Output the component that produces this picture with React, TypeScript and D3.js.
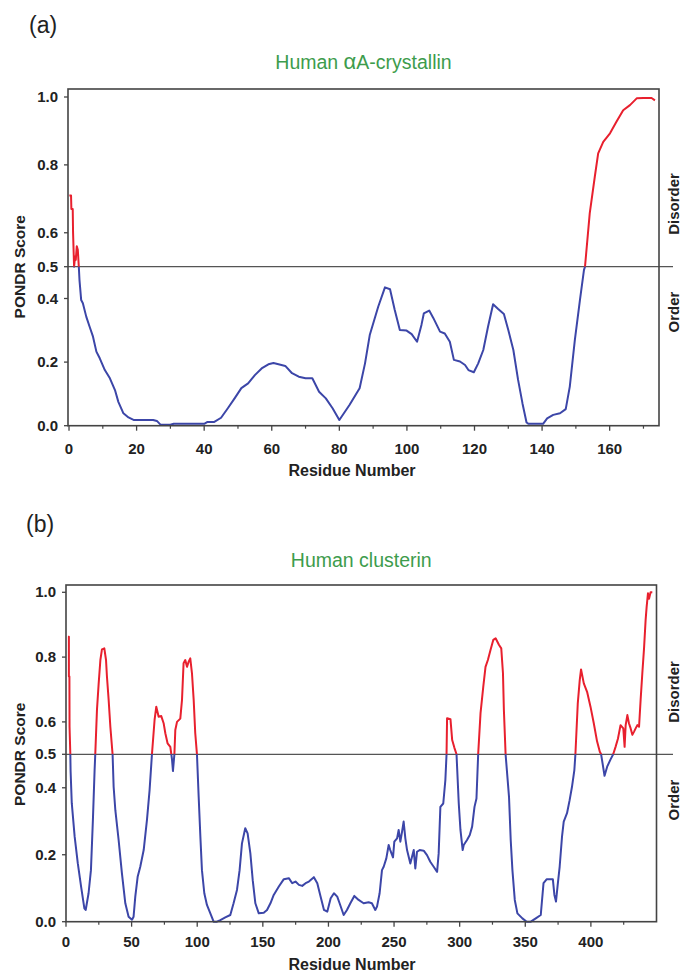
import React from "react";
import { scaleLinear, line } from "d3";

// PONDR scores: [residue, score]
const alphaCrystallin: [number, number][] = [
  [0.1, 0.71], [0.6, 0.71], [0.7, 0.67], [1.1, 0.67], [1.2, 0.6], [1.5, 0.5], [1.8, 0.53], [2.0, 0.52],
  [2.3, 0.56], [2.6, 0.55], [2.9, 0.5], [3.1, 0.458], [3.6, 0.395], [4.1, 0.385], [5.1, 0.343], [6.1, 0.311],
  [7.1, 0.28], [8.1, 0.233], [9.1, 0.212], [10.6, 0.175], [12.1, 0.149], [13.6, 0.112], [14.6, 0.075],
  [16.1, 0.039], [17.6, 0.026], [19.1, 0.018], [24.9, 0.018], [26, 0.015], [27, 0.004], [30, 0.003],
  [31, 0.006], [40, 0.006], [41, 0.012], [43, 0.012], [45, 0.025], [47, 0.055], [49, 0.086], [51, 0.118],
  [53, 0.133], [55, 0.159], [57, 0.18], [59, 0.193], [60.5, 0.197], [62, 0.193], [64, 0.188], [66, 0.165],
  [68, 0.154], [70, 0.149], [72, 0.149], [74, 0.107], [76, 0.086], [78, 0.055], [80, 0.018], [83, 0.065],
  [86, 0.118], [87.6, 0.196], [89, 0.285], [91.5, 0.374], [93.5, 0.435], [95, 0.429], [96.4, 0.364],
  [97.9, 0.301], [99.9, 0.299], [101.4, 0.288], [103, 0.264], [104.3, 0.317], [105, 0.353], [106.6, 0.362],
  [107.8, 0.339], [109.8, 0.296], [111.2, 0.29], [112.7, 0.264], [113.9, 0.207], [115.7, 0.202],
  [117.2, 0.191], [118.2, 0.175], [119.8, 0.168], [121.1, 0.196], [122.6, 0.238], [124, 0.311],
  [125.5, 0.382], [127, 0.367], [128.7, 0.351], [130, 0.301], [131.5, 0.238], [132.9, 0.144], [134.2, 0.07],
  [135.4, 0.01], [136, 0.006], [140.3, 0.006], [141.5, 0.023], [143.3, 0.034], [145.3, 0.039], [147, 0.052],
  [148.2, 0.123], [149.7, 0.27], [151.2, 0.395], [152.4, 0.49], [152.7, 0.5], [154.1, 0.657], [155.6, 0.765],
  [156.6, 0.834], [158.1, 0.868], [160.1, 0.893], [162, 0.927], [164, 0.961], [166, 0.976], [168, 0.996],
  [170, 0.997], [172.4, 0.997], [173.4, 0.99],
];

const clusterin: [number, number][] = [
  [1.5, 0.863], [2.2, 0.863], [2.2, 0.74], [2.6, 0.74], [2.7, 0.585], [3.3, 0.5], [3.5, 0.45], [4.4, 0.354],
  [6.6, 0.254], [9, 0.174], [11.5, 0.105], [14, 0.04], [15, 0.035], [17.2, 0.085], [19, 0.154], [20.5, 0.304],
  [21.8, 0.453], [22.3, 0.5], [23.6, 0.637], [24.9, 0.719], [26.2, 0.791], [27.4, 0.824], [29.2, 0.827],
  [30.5, 0.791], [31.2, 0.74], [32.5, 0.668], [33.8, 0.585], [35.5, 0.5], [36.3, 0.403], [37.6, 0.333],
  [40.1, 0.244], [42.6, 0.145], [45.2, 0.055], [47.7, 0.015], [50.3, 0.006], [51.5, 0.015], [52.8, 0.075],
  [54.6, 0.134], [56.6, 0.164], [59.2, 0.214], [61.7, 0.304], [63.7, 0.393], [65.5, 0.5], [67.5, 0.606],
  [68.8, 0.647], [70.6, 0.616], [72.6, 0.618], [74.4, 0.596], [75.7, 0.565], [77.4, 0.534], [79.5, 0.523],
  [80.8, 0.484], [81.5, 0.45], [82.6, 0.5], [83.3, 0.575], [84.6, 0.6], [87.1, 0.61], [88.4, 0.668],
  [89.6, 0.781], [90.9, 0.791], [92.2, 0.77], [93.5, 0.786], [94.7, 0.796], [96, 0.75], [97.3, 0.668],
  [98.5, 0.565], [99.8, 0.5], [101.1, 0.373], [102.4, 0.254], [103.6, 0.154], [105.4, 0.085], [107.4, 0.05],
  [110, 0.025], [112.5, 0.0], [115, 0.0], [117.6, 0.005], [121.4, 0.013], [125.2, 0.02], [127.7, 0.055],
  [130.3, 0.095], [132.3, 0.154], [134.1, 0.234], [136.6, 0.279], [138.4, 0.264], [140.5, 0.204],
  [142.3, 0.124], [144.3, 0.055], [146.9, 0.025], [150.7, 0.027], [153.2, 0.035], [155.8, 0.055],
  [158.3, 0.08], [162.2, 0.105], [166, 0.127], [169.8, 0.13], [172.4, 0.115], [174.9, 0.12], [177.5, 0.11],
  [180, 0.107], [182.6, 0.115], [185.1, 0.12], [188.9, 0.133], [191.5, 0.115], [194, 0.075], [196.6, 0.035],
  [199.1, 0.03], [201.7, 0.07], [204.2, 0.085], [206.7, 0.075], [208.5, 0.055], [211.6, 0.02], [214.1, 0.035],
  [216.7, 0.055], [219.7, 0.077], [223, 0.065], [226.8, 0.055], [230.6, 0.058], [233.1, 0.055], [235.7, 0.035],
  [237, 0.045], [239, 0.085], [240.8, 0.154], [242.1, 0.164], [244.1, 0.189], [245.9, 0.229], [247.1, 0.214],
  [249.2, 0.192], [250.2, 0.239], [252.3, 0.249], [253.5, 0.274], [254.8, 0.239], [256.1, 0.269],
  [257.3, 0.299], [258.6, 0.249], [259.9, 0.214], [262.4, 0.174], [263.7, 0.194], [265, 0.214], [266.2, 0.159],
  [267.5, 0.209], [269.5, 0.214], [272.6, 0.212], [275.1, 0.199], [277.6, 0.179], [280.2, 0.164],
  [282.8, 0.149], [284, 0.204], [285.3, 0.343], [287.5, 0.353], [289.1, 0.423], [290, 0.5], [290.4, 0.611],
  [293, 0.608], [294.3, 0.544], [296, 0.52], [297.6, 0.5], [299.3, 0.354], [300.6, 0.274], [302.3, 0.214],
  [303.1, 0.229], [305.6, 0.244], [307.7, 0.259], [309.5, 0.284], [311.3, 0.343], [312.8, 0.368], [314.1, 0.5],
  [315.9, 0.627], [318, 0.709], [319.7, 0.77], [321.5, 0.791], [323.5, 0.822], [325.6, 0.853], [327.4, 0.858],
  [329.9, 0.838], [331.7, 0.827], [333, 0.75], [333.7, 0.637], [335, 0.5], [337.6, 0.373], [338.9, 0.244],
  [340.2, 0.154], [342, 0.065], [344, 0.025], [347.8, 0.01], [351.1, 0.0], [354.2, 0.0], [358, 0.01],
  [361.8, 0.02], [363.9, 0.115], [366.4, 0.127], [369.5, 0.127], [371, 0.127], [372.2, 0.08], [373.4, 0.06],
  [374.7, 0.11], [376.2, 0.164], [378, 0.254], [379.3, 0.299], [381.8, 0.324], [383.8, 0.363], [385.6, 0.403],
  [387.4, 0.453], [388.2, 0.5], [390, 0.657], [391.5, 0.729], [392.5, 0.762], [394.6, 0.719], [397.1, 0.693],
  [399.7, 0.647], [402.2, 0.596], [404.7, 0.54], [406.8, 0.508], [407.8, 0.5], [410.4, 0.436], [412.4, 0.463],
  [414.9, 0.484], [417, 0.5], [418.8, 0.523], [420.6, 0.548], [422.6, 0.59], [424.7, 0.58], [425.7, 0.523],
  [426.5, 0.59], [427.8, 0.621], [429, 0.596], [430.3, 0.58], [431.6, 0.56], [432.9, 0.57], [434.1, 0.58],
  [435.4, 0.59], [436.7, 0.585], [437.9, 0.668], [439.2, 0.75], [440.5, 0.827], [441.7, 0.914], [442.5, 0.956],
  [443.5, 0.997], [444.3, 0.98], [445.5, 1.0], [446.8, 1.0],
];

const yTicks = [0, 0.2, 0.4, 0.5, 0.6, 0.8, 1.0];
const alphaXTicks = [0, 20, 40, 60, 80, 100, 120, 140, 160];
const alphaXMinor = [10, 30, 50, 70, 90, 110, 130, 150, 170];
const clusterinXTicks = [0, 50, 100, 150, 200, 250, 300, 350, 400];
const clusterinXMinor = [25, 75, 125, 175, 225, 275, 325, 375, 425];
const threshold = 0.5;

const RED = "#e8202e";
const BLUE = "#3c46a8";
const GREEN = "#3d9c4c";
const AXIS = "#444";
const FONT = "'Liberation Sans', Arial, Helvetica, sans-serif";

type PanelProps = {
  id: string;
  letter: string;
  title: React.ReactNode;
  data: [number, number][];
  xDomain: [number, number];
  left: number;
  right: number;
  top: number;
  yRange: [number, number, number];
  xTicks: number[];
  xMinor: number[];
  letterX: number;
  letterY: number;
  titleY: number;
  tickLabelDy: number;
  xTitleDy: number;
  disorderY: number;
  orderY: number;
};

const Panel = (p: PanelProps) => {
  const x = scaleLinear().domain(p.xDomain).range([p.left, p.right]);
  // the reference's y axis is not quite uniform around 0.5
  const y = scaleLinear().domain([0, threshold, 1]).range(p.yRange);
  const bottom = y(0);
  const yT = y(threshold);
  const path = line<[number, number]>()
    .x((d) => x(d[0]))
    .y((d) => y(d[1]))(p.data) || "";
  const cx = 352;

  return (
    <g>
      <defs>
        <clipPath id={`${p.id}-above`}>
          <rect x={p.left} y={p.top - 5} width={p.right - p.left} height={yT - p.top + 5} />
        </clipPath>
        <clipPath id={`${p.id}-below`}>
          <rect x={p.left} y={yT} width={p.right - p.left} height={bottom - yT + 3} />
        </clipPath>
      </defs>
      <text x={p.letterX} y={p.letterY} fontSize={23} fontFamily={FONT} fill="#222">
        {p.letter}
      </text>
      <text x={(p.left + p.right) / 2} y={p.titleY} textAnchor="middle" fontSize={19.5} fontFamily={FONT} fill={GREEN}>
        {p.title}
      </text>

      <line x1={p.left} x2={673} y1={yT} y2={yT} stroke="#555" strokeWidth={1.2} />

      <path d={path} fill="none" stroke={RED} strokeWidth={2} strokeLinejoin="round" clipPath={`url(#${p.id}-above)`} />
      <path d={path} fill="none" stroke={BLUE} strokeWidth={2} strokeLinejoin="round" clipPath={`url(#${p.id}-below)`} />

      <rect x={p.left} y={p.top} width={p.right - p.left} height={bottom - p.top} fill="none" stroke={AXIS} strokeWidth={1.6} />

      {yTicks.map((t) => (
        <g key={t}>
          <line x1={p.left - 4} x2={p.left} y1={y(t)} y2={y(t)} stroke={AXIS} strokeWidth={1.3} />
          <text x={p.left - 10} y={y(t) + 5} textAnchor="end" fontSize={15} fontWeight="bold" fontFamily={FONT} fill="#222">
            {t.toFixed(1)}
          </text>
        </g>
      ))}
      {p.xTicks.map((t) => (
        <g key={t}>
          <line x1={x(t)} x2={x(t)} y1={bottom} y2={bottom + 5} stroke={AXIS} strokeWidth={1.3} />
          <text x={x(t)} y={bottom + p.tickLabelDy} textAnchor="middle" fontSize={15} fontWeight="bold" fontFamily={FONT} fill="#222">
            {t}
          </text>
        </g>
      ))}
      {p.xMinor.map((t) => (
        <line key={t} x1={x(t)} x2={x(t)} y1={bottom} y2={bottom + 3} stroke={AXIS} strokeWidth={1.2} />
      ))}

      <text x={cx} y={bottom + p.xTitleDy} textAnchor="middle" fontSize={16} fontWeight="bold" fontFamily={FONT} fill="#222">
        Residue Number
      </text>
      <text
        transform={`translate(25,${yT}) rotate(-90)`}
        textAnchor="middle"
        fontSize={15.5}
        fontWeight="bold"
        fontFamily={FONT}
        fill="#222"
      >
        PONDR Score
      </text>
      <text transform={`translate(679,${p.disorderY}) rotate(-90)`} textAnchor="middle" fontSize={15} fontWeight="bold" fontFamily={FONT} fill="#222">
        Disorder
      </text>
      <text transform={`translate(679,${p.orderY}) rotate(-90)`} textAnchor="middle" fontSize={15} fontWeight="bold" fontFamily={FONT} fill="#222">
        Order
      </text>
    </g>
  );
};

export default function App() {
  return (
    <svg
      width={682}
      height={974}
      viewBox="0 0 682 974"
      style={{ position: "absolute", left: 0, top: 0, background: "#fff" }}
    >
      <Panel
        id="pa"
        letter="(a)"
        title={
          <>
            Human <tspan fontSize={22}>α</tspan>A-crystallin
          </>
        }
        data={alphaCrystallin}
        xDomain={[-0.3, 174.6]}
        left={68}
        right={659}
        top={89}
        yRange={[425.7, 266.7, 97]}
        xTicks={alphaXTicks}
        xMinor={alphaXMinor}
        letterX={29}
        letterY={32.5}
        titleY={69}
        tickLabelDy={28}
        xTitleDy={50.5}
        disorderY={204}
        orderY={312}
      />
      <Panel
        id="pb"
        letter="(b)"
        title="Human clusterin"
        data={clusterin}
        xDomain={[0, 450]}
        left={66}
        right={656.5}
        top={585}
        yRange={[921.7, 754.3, 592.3]}
        xTicks={clusterinXTicks}
        xMinor={clusterinXMinor}
        letterX={26}
        letterY={531.5}
        titleY={567}
        tickLabelDy={25}
        xTitleDy={48.5}
        disorderY={692}
        orderY={800}
      />
    </svg>
  );
}
